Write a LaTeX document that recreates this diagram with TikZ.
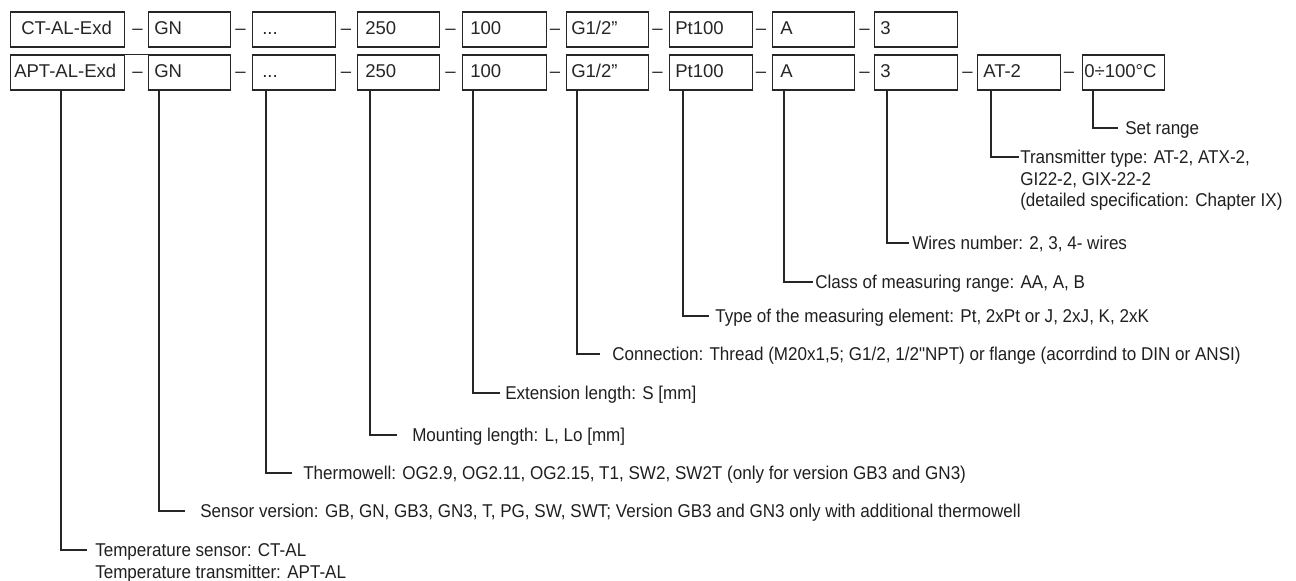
\documentclass[tikz,border=0pt]{standalone}
\usepackage{fontspec}
\setmainfont{Liberation Sans}
\newfontfamily\lblfont[FakeStretch=0.92]{Liberation Sans}
\begin{document}
\begin{tikzpicture}[x=0.75pt,y=-0.75pt,
  font=\fontsize{13.9}{16.1}\selectfont,
  codebox/.style={draw=black!85,line width=1.1pt,minimum height=26.25pt,inner sep=0pt,anchor=north west},
  codetxt/.style={anchor=base west,inner sep=0pt,text=black!85},
  sep/.style={anchor=base,inner sep=0pt,text=black!85},
  lbl/.style={anchor=base west,inner sep=0pt,font=\lblfont\fontsize{13.9}{16.1}\selectfont,align=left,text=black!88},
  conn/.style={draw=black!85,line width=1.1pt}]
\useasboundingbox (0,0) rectangle (1296,581);
% row 1
\foreach \n/\xl/\w/\tx/\t in {1/10/114/21/{CT-AL-Exd},2/148/82/154/{GN},3/252/83/262/{...},4/357/82/365/{250},5/462/84/470/{100},6/566/82/571/{G1/2"},7/669/83/675/{Pt100},8/772/82/780/{A},9/874/83/880/{3}}{
  \node[codebox,minimum width=\w*0.75pt] (ra\n) at (\xl,11.5) {};
  \node[codetxt] (ta\n) at (\tx,35) {\t};
}
% row 2
\foreach \n/\xl/\w/\tx/\t in {1/10/114/14/{APT-AL-Exd},2/148/82/154/{GN},3/252/83/262/{...},4/357/82/365/{250},5/462/84/470/{100},6/566/82/571/{G1/2"},7/669/83/675/{Pt100},8/772/82/780/{A},9/874/83/880/{3},10/977/83/983/{AT-2},11/1082/82/1084/{0÷100°C}}{
  \node[codebox,minimum width=\w*0.75pt] (rb\n) at (\xl,54.5) {};
  \node[codetxt] (tb\n) at (\tx,78) {\t};
}
\draw[conn] (rb1.north east) -- (rb2.north west);
% separators
\foreach \n/\xc in {1/137.5,2/240.5,3/346,4/450.5,5/555,6/657.5,7/761,8/864.5}{
  \node[sep] (sa\n) at (\xc,35) {–};
  \node[sep] (sb\n) at (\xc,78) {–};
}
\node[sep] (sb9) at (967.5,78) {–};
\node[sep] (sb10) at (1069,78) {–};
% labels
\node[lbl] (l11) at (1125,134.5) {Set range};
\node[lbl] (l10) at (1020,206.5) {Transmitter type: AT-2, ATX-2,\\GI22-2, GIX-22-2\\(detailed specification: Chapter IX)};
\node[lbl] (l9) at (912,249.5) {Wires number: 2, 3, 4- wires};
\node[lbl] (l8) at (815,288.5) {Class of measuring range: AA, A, B};
\node[lbl] (l7) at (715,322.5) {Type of the measuring element: Pt, 2xPt or J, 2xJ, K, 2xK};
\node[lbl] (l6) at (612,360.5) {Connection: Thread (M20x1,5; G1/2, 1/2"NPT) or flange (acorrdind to DIN or ANSI)};
\node[lbl] (l5) at (505,399.5) {Extension length: S [mm]};
\node[lbl] (l4) at (412,441.5) {Mounting length: L, Lo [mm]};
\node[lbl] (l3) at (303,479.5) {Thermowell: OG2.9, OG2.11, OG2.15, T1, SW2, SW2T (only for version GB3 and GN3)};
\node[lbl] (l2) at (200,517.5) {Sensor version: GB, GN, GB3, GN3, T, PG, SW, SWT; Version GB3 and GN3 only with additional thermowell};
\node[lbl] (l1) at (95,578) {Temperature sensor: CT-AL\\Temperature transmitter: APT-AL};
% line ends
\coordinate (e11) at (1118,128);
\coordinate (e10) at (1019,157);
\coordinate (e9) at (909,243);
\coordinate (e8) at (813,282);
\coordinate (e7) at (709,316);
\coordinate (e6) at (600,354);
\coordinate (e5) at (500,393);
\coordinate (e4) at (397,435);
\coordinate (e3) at (292,473);
\coordinate (e2) at (185,511);
\coordinate (e1) at (87,550);
% connectors
\foreach \n/\off in {1/51,2/11,3/14,4/13,5/11,6/11,7/14,8/12,9/13,10/14,11/11}{
  \draw[conn] (rb\n.south west) ++(\off,0) |- (e\n);
}
\end{tikzpicture}
\end{document}
